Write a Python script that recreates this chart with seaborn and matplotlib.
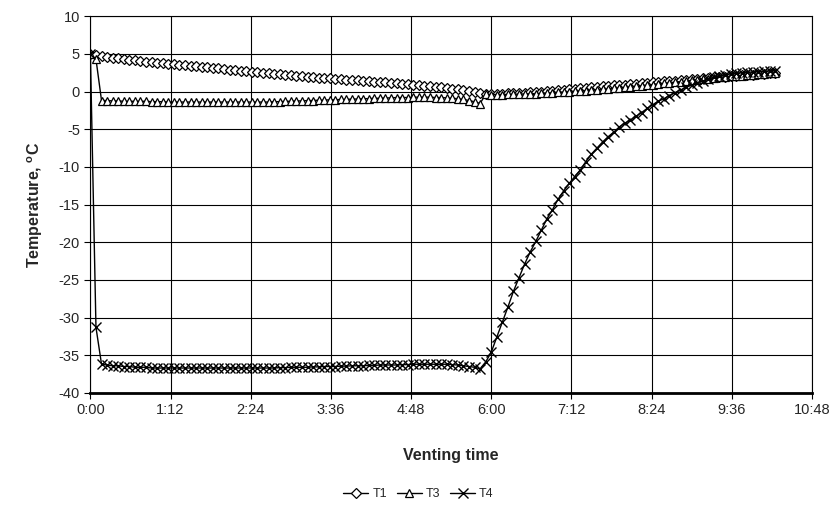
import numpy as np
import pandas as pd
import matplotlib
matplotlib.use("Agg")
import matplotlib.pyplot as plt
import seaborn as sns

# Logged every 5 minutes from the start of venting
step_min = 5

# T1 (diamonds), degC, one row per hour
t1 = [
    5.00, 4.80, 4.70, 4.60, 4.50, 4.40, 4.30, 4.22, 4.14, 4.06, 3.98, 3.90,
    3.83, 3.76, 3.69, 3.62, 3.55, 3.48, 3.41, 3.34, 3.27, 3.20, 3.13, 3.06,
    2.99, 2.92, 2.85, 2.78, 2.71, 2.64, 2.57, 2.50, 2.43, 2.36, 2.29, 2.22,
    2.15, 2.08, 2.01, 1.95, 1.90, 1.85, 1.80, 1.75, 1.70, 1.65, 1.59, 1.54,
    1.48, 1.43, 1.37, 1.32, 1.26, 1.20, 1.15, 1.10, 1.04, 0.98, 0.92, 0.85,
    0.78, 0.71, 0.64, 0.56, 0.48, 0.39, 0.30, 0.20, 0.10, -0.05, -0.20, -0.30,
    -0.30, -0.30, -0.28, -0.25, -0.22, -0.18, -0.14, -0.10, -0.05, 0.00, 0.06, 0.12,
    0.18, 0.25, 0.32, 0.38, 0.44, 0.50, 0.56, 0.62, 0.68, 0.74, 0.80, 0.86,
    0.92, 0.98, 1.04, 1.10, 1.16, 1.22, 1.28, 1.34, 1.40, 1.46, 1.52, 1.58,
    1.64, 1.70, 1.76, 1.82, 1.88, 1.93, 1.98, 2.03, 2.08, 2.13, 2.18, 2.23,
    2.30, 2.36, 2.42, 2.48,
]

# T3 (triangles)
t3 = [
    5.0, 4.3, -1.2, -1.2, -1.25, -1.25, -1.3, -1.3, -1.3, -1.3, -1.3, -1.35,
    -1.35, -1.35, -1.4, -1.4, -1.4, -1.4, -1.4, -1.4, -1.4, -1.4, -1.4, -1.4,
    -1.4, -1.4, -1.4, -1.4, -1.4, -1.4, -1.4, -1.4, -1.4, -1.35, -1.35, -1.3,
    -1.3, -1.25, -1.25, -1.2, -1.2, -1.15, -1.15, -1.1, -1.1, -1.05, -1.05, -1.0,
    -1.0, -0.95, -0.95, -0.9, -0.9, -0.85, -0.85, -0.8, -0.8, -0.8, -0.75, -0.75,
    -0.75, -0.75, -0.8, -0.8, -0.85, -0.9, -0.95, -1.05, -1.2, -1.35, -1.6, -0.35,
    -0.4, -0.4, -0.4, -0.38, -0.36, -0.34, -0.32, -0.3, -0.27, -0.24, -0.2, -0.16,
    -0.12, -0.08, -0.03, 0.02, 0.07, 0.12, 0.18, 0.24, 0.3, 0.36, 0.42, 0.48,
    0.55, 0.62, 0.69, 0.76, 0.84, 0.92, 1.0, 1.08, 1.16, 1.24, 1.32, 1.4,
    1.48, 1.56, 1.64, 1.72, 1.8, 1.87, 1.94, 2.0, 2.06, 2.12, 2.18, 2.24,
    2.3, 2.36, 2.42, 2.48,
]

# T4 (crosses)
t4 = [
    5.0, -31.3, -36.2, -36.3, -36.4, -36.4, -36.5, -36.5, -36.6, -36.6, -36.6, -36.7,
    -36.7, -36.7, -36.7, -36.7, -36.7, -36.7, -36.7, -36.7, -36.7, -36.7, -36.7, -36.7,
    -36.7, -36.7, -36.7, -36.7, -36.7, -36.7, -36.7, -36.7, -36.7, -36.7, -36.65, -36.65,
    -36.6, -36.6, -36.6, -36.6, -36.55, -36.55, -36.5, -36.5, -36.5, -36.45, -36.45, -36.4,
    -36.4, -36.4, -36.35, -36.35, -36.3, -36.3, -36.3, -36.3, -36.25, -36.25, -36.2, -36.2,
    -36.2, -36.2, -36.2, -36.2, -36.2, -36.25, -36.3, -36.4, -36.5, -36.6, -36.8, -35.9,
    -34.6, -32.6, -30.6, -28.6, -26.5, -24.7, -22.9, -21.3, -19.9, -18.4, -16.9, -15.7,
    -14.3, -13.2, -12.2, -11.3, -10.4, -9.3, -8.3, -7.5, -6.7, -6.0, -5.4, -4.7,
    -4.2, -3.8, -3.3, -2.8, -2.25, -1.75, -1.3, -0.95, -0.55, -0.15, 0.2, 0.55,
    0.85, 1.15, 1.4, 1.65, 1.9, 2.05, 2.2, 2.35, 2.45, 2.5, 2.55, 2.6,
    2.65, 2.7, 2.72, 2.75,
]

series_names = ["T1", "T3", "T4"]
series_markers = {"T1": "D", "T3": "^", "T4": "x"}
series_sizes = {"T1": 5, "T3": 6, "T4": 6.5}

xtick_labels = ["0:00", "1:12", "2:24", "3:36", "4:48", "6:00",
                "7:12", "8:24", "9:36", "10:48"]

minutes = np.arange(len(t1)) * step_min
df = pd.DataFrame({"minutes": minutes, "T1": t1, "T3": t3, "T4": t4})

sns.set_style("white")
plt.rcParams["font.family"] = ["Liberation Sans", "DejaVu Sans"]
plt.rcParams["axes.unicode_minus"] = False
plt.rcParams["mathtext.fontset"] = "custom"
plt.rcParams["mathtext.rm"] = "Liberation Sans"
plt.rcParams["mathtext.bf"] = "Liberation Sans:bold"

fig, ax = plt.subplots(figsize=(8.37, 5.05), dpi=100)
fig.subplots_adjust(left=0.108, right=0.970, top=0.968, bottom=0.222)

for name in series_names:
    m = series_markers[name]
    kw = dict(markerfacecolor="white", markeredgecolor="black", markeredgewidth=0.9)
    if m == "x":
        kw = dict(markeredgecolor="black", markeredgewidth=1.0)
    sns.lineplot(data=df, x="minutes", y=name, ax=ax, color="black", linewidth=1.0,
                 marker=m, markersize=series_sizes[name], label=name, **kw)

ax.set_xlim(0, 648)
ax.set_ylim(-40, 10)
ax.set_xticks(np.arange(len(xtick_labels)) * 72)
ax.set_xticklabels(xtick_labels)
ax.set_yticks(np.arange(-40, 11, 5))
ax.tick_params(axis="both", labelsize=10.5, direction="out", length=4,
               width=0.8, color="black", bottom=True, left=True)
ax.grid(True, color="black", linewidth=0.8)
ax.set_axisbelow(True)
for side, sp in ax.spines.items():
    sp.set_visible(True)
    sp.set_color("black")
    sp.set_linewidth(0.8)
ax.spines["bottom"].set_linewidth(2.0)

ax.set_xlabel("Venting time", fontsize=11.5, fontweight="bold", labelpad=22)
ax.set_ylabel(r"Temperature, $^{\mathbf{o}}$C", fontsize=11.5, fontweight="bold",
              labelpad=10)

ax.legend(loc="upper center", bbox_to_anchor=(0.5, 0.055), bbox_transform=fig.transFigure,
          ncol=3, frameon=False, fontsize=9, handlelength=2.0, handletextpad=0.3,
          columnspacing=0.8, markerscale=1.0)

fig.savefig("out.png", dpi=100, facecolor="white")
